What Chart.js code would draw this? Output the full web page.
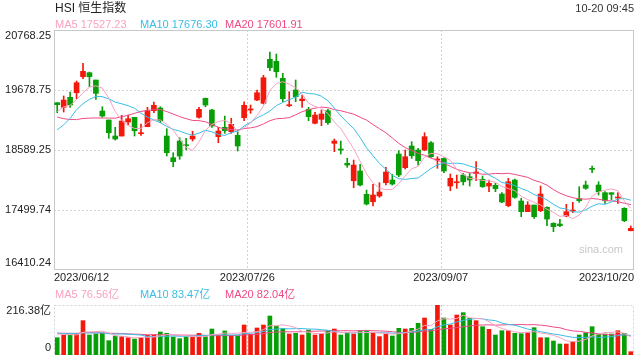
<!DOCTYPE html>
<html>
<head>
<meta charset="utf-8">
<script src="https://cdn.jsdelivr.net/npm/chart.js@4.4.0/dist/chart.umd.min.js"></script>
<style>
body { margin: 0; background: #fff; }
#wrap { position: relative; width: 640px; height: 360px; overflow: hidden; font-family: Arial, "Liberation Sans", "Noto Sans CJK SC", sans-serif; }
canvas { position: absolute; left: 0; }
.t { position: absolute; white-space: nowrap; font-size: 11px; line-height: 12px; }
</style>
</head>
<body>
<div id="wrap">
  <canvas id="kline" width="640" height="290" style="top:0"></canvas>
  <canvas id="vol" width="640" height="70" style="top:290px"></canvas>
  <div class="t" style="left:55px;top:1px;font-size:12px;line-height:14px;color:#222">HSI 恒生指数</div>
  <div class="t" style="right:6px;top:2px;color:#333">10-20 09:45</div>
  <div id="legK"></div>
  <div id="legV"></div>
  <div class="t" style="right:17px;top:243px;color:#c8c8c8">sina.com</div>
</div>
<script>
// ---- data ----
const tickLabels = ['2023/06/12', '2023/07/26', '2023/09/07', '2023/10/20'];
const tickAt = [-0.5, 29.5, 59.5, 89.5];
const priceTicks = [20768.25, 19678.75, 18589.25, 17499.74, 16410.24];
const volTicks = [216.38, 0];
const maNames = ['MA5', 'MA10', 'MA20'];
const maValues = ['17527.23', '17676.30', '17601.91'];
const volMaValues = ['76.56亿', '83.47亿', '82.04亿'];

const open = [19448,19364,19546,19629,19920,19993,19860,19297,19134,18843,
  18843,19097,19183,18885,19012,19303,19352,18843,18449,18752,
  18680,18789,19183,19528,19315,18831,19001,18921,18856,19176,
  19315,19497,19437,20236,20200,19891,19393,19679,19484,19328,
  19074,19146,19303,18710,18607,18347,18031,18208,17784,17650,
  17754,17995,18044,18516,18268,18662,18589,18589,18721,18407,
  18438,17935,17995,18135,18104,18165,18057,17935,17948,17790,
  17577,18044,17663,17469,17590,17487,17549,17258,17245,17390,
  17481,17705,17953,18244,17953,17814,17814,17717,17530,17123];
const high = [19448,19570,19642,19842,20163,20005,19860,19375,19134,19001,
  19219,19224,19183,19061,19364,19461,19375,18976,18540,18812,
  18801,18929,19364,19533,19328,19001,19206,19165,18952,19466,
  19406,19679,19945,20369,20332,19982,19648,19860,19588,19364,
  19273,19315,19328,18789,18752,18438,18407,18329,17862,17966,
  17995,18275,18148,18576,18589,18740,18620,18903,18740,18467,
  18449,18153,18135,18165,18165,18377,18117,18044,17984,17814,
  18075,18062,17712,17650,17590,17935,17559,17269,17330,17603,
  17639,17922,18025,18298,18013,17832,17814,17814,17541,17209];
const low = [19266,19279,19364,19520,19884,19738,19509,19183,18801,18770,
  18843,19043,18843,18856,19012,19266,19085,18480,18286,18420,
  18589,18752,19165,19375,19001,18721,18892,18892,18571,19121,
  19255,19484,19424,20029,19909,19466,19375,19466,19364,19121,
  19061,19030,19055,18558,18516,18275,17904,17935,17590,17572,
  17730,17953,17953,18104,18244,18438,18316,18576,18456,18257,
  18177,17850,17893,17953,17935,18031,17912,17832,17832,17632,
  17559,17712,17378,17469,17349,17469,17214,17105,17196,17378,
  17450,17639,17875,18177,17772,17621,17681,17621,17287,17123];
const close = [19412,19497,19406,19811,20018,19920,19618,19206,18903,18789,
  19115,19157,18939,18903,19303,19401,19121,18540,18377,18480,
  18667,18843,19328,19406,19025,18934,18939,19055,18662,19401,
  19334,19629,19902,20084,20011,19520,19412,19557,19515,19194,
  19224,19243,19085,18752,18589,18316,18316,17953,17608,17772,
  17826,18189,17971,18135,18467,18485,18395,18831,18467,18425,
  18208,18075,18013,18013,18044,18189,17922,17984,17886,17645,
  18013,17730,17469,17590,17378,17790,17336,17196,17215,17469,
  17499,17668,17893,18238,17832,17668,17784,17730,17305,17167];
// turnover, 亿
const volume = [74.9,86.6,86.6,93.8,148.6,86.6,90.9,93.8,62,82.2,
  79.4,74.9,69.2,74.9,85.1,86.6,99.5,93.8,77.9,70.7,
  77.9,77.9,93.8,79.4,112.5,86.6,103.9,85.1,82.2,129.8,
  89.5,116.9,129.8,168.8,125.5,113.8,90.9,93.8,86.6,108.2,
  86.6,90.9,105.2,112.5,86.6,96.5,90.9,105.2,105.2,93.8,
  79.4,90.9,82.2,115.4,112.5,115.4,137,160.1,111,216.38,
  160.1,129.8,173.1,183.2,158.7,148.6,122.6,111,86.6,105.2,
  105.2,93.8,92.3,96.5,118.3,74.9,74.9,60.6,47.6,47.6,
  57.7,86.6,96.5,122.6,89.5,90.9,90.9,105.2,93.8,14.4];
// sessions before the window (estimated), only feed the moving averages
const preCloses = [20100,19700,19850,19600,19800,19550,19250,18900,18850,18600,
  18600,18230,18220,18950,19110,19100,19250,19300,19390];
const preVolumes = [95,88,102,90,84,97,110,92,86,99,105,88,94,120,85,96,90,100,93];

// ---- styles ----
const upColor = '#f2190c', downColor = '#089e08';
const maColors = ['#f8a2c2', '#38bee6', '#ee4a86'];
const maLen = [5, 10, 20];
const font = 'Arial, "Liberation Sans", "Noto Sans CJK SC", sans-serif';

function movingAvg(pre, vals, n) {
  const all = pre.concat(vals);
  return vals.map((_, i) => {
    const end = pre.length + i + 1;
    return all.slice(end - n, end).reduce((a, b) => a + b, 0) / n;
  });
}

function legend(el, top, values) {
  const xs = [55, 140, 225];
  el.innerHTML = maNames.map((n, i) =>
    '<div class="t" style="left:' + xs[i] + 'px;top:' + top + 'px;color:' + maColors[i] + '">' +
    n + ' ' + values[i] + '</div>').join('');
}
legend(document.getElementById('legK'), 18, maValues);
legend(document.getElementById('legV'), 288, volMaValues);

const idx = close.map((_, i) => i);
const colors = idx.map(i => close[i] >= open[i] ? upColor : downColor);

const frame = {
  id: 'frame',
  beforeDatasetsDraw(chart, args, o) {
    const { ctx, chartArea: a, scales: { x, y } } = chart;
    ctx.save();
    ctx.lineWidth = 1;
    ctx.strokeStyle = '#d2d2d2';
    ctx.setLineDash([2, 2]);
    ctx.beginPath();
    o.hLines.forEach(v => {
      const py = Math.round(y.getPixelForValue(v)) + 0.5;
      ctx.moveTo(a.left, py); ctx.lineTo(a.right, py);
    });
    o.vLines.forEach(v => {
      const px = Math.round(x.getPixelForValue(v)) + 0.5;
      ctx.moveTo(px, a.top); ctx.lineTo(px, a.bottom);
    });
    ctx.stroke();
    if (o.solid) {
      ctx.setLineDash([]);
      ctx.strokeStyle = '#c8c8c8';
    }
    ctx.strokeRect(a.left + 0.5, a.top + 0.5, a.right - a.left - 1, a.bottom - a.top - 1);
    ctx.restore();
  },
  afterDraw(chart, args, o) {
    const { ctx, chartArea: a, scales: { x, y } } = chart;
    ctx.save();
    ctx.font = '11px ' + font;
    ctx.fillStyle = '#222';
    ctx.textAlign = 'right';
    o.yTicks.forEach((v, i) => {
      const py = y.getPixelForValue(v);
      const last = o.yTicks.length - 1;
      ctx.textBaseline = i === 0 ? 'top' : i === last ? 'bottom' : 'middle';
      ctx.fillText(o.yText[i], a.left - 3, i === last ? py - 2 : py);
    });
    if (o.xText) {
      ctx.textBaseline = 'middle';
      tickAt.forEach((v, i) => {
        ctx.textAlign = i === 0 ? 'left' : i === tickAt.length - 1 ? 'right' : 'center';
        ctx.fillText(tickLabels[i], x.getPixelForValue(v), a.bottom + 8);
      });
    }
    ctx.restore();
  }
};

function lineSet(vals, i) {
  return {
    type: 'line', data: idx.map(k => ({ x: k, y: vals[k] })),
    borderColor: maColors[i], borderWidth: 1, pointRadius: 0, tension: 0, order: 0
  };
}

const baseOpts = (pad, yMin, yMax, plug) => ({
  responsive: false, animation: false, events: [],
  layout: { padding: pad },
  plugins: { legend: { display: false }, tooltip: { enabled: false }, frame: plug },
  scales: {
    x: { type: 'linear', min: -0.5, max: 89.5, offset: false, display: false },
    y: { min: yMin, max: yMax, display: false }
  }
});

new Chart(document.getElementById('kline'), {
  type: 'bar',
  data: {
    datasets: [
      ...maLen.map((n, i) => lineSet(movingAvg(preCloses, close, n), i)),
      { data: idx.map(i => ({ x: i, y: [low[i], high[i]] })), backgroundColor: colors,
        grouped: false, barThickness: 1, maxBarThickness: 1, order: 2 },
      { data: idx.map(i => ({ x: i, y: [open[i], close[i]] })), backgroundColor: colors,
        grouped: false, barThickness: 5, maxBarThickness: 5, minBarLength: 1, order: 1 }
    ]
  },
  options: baseOpts({ left: 54, top: 30, right: 6, bottom: 20 }, priceTicks[4], priceTicks[0], {
    hLines: priceTicks.slice(1, 4), vLines: tickAt.slice(1, 3), solid: true,
    yTicks: priceTicks, yText: priceTicks.map(v => v.toFixed(2)), xText: true
  }),
  plugins: [frame]
});

new Chart(document.getElementById('vol'), {
  type: 'bar',
  data: {
    datasets: [
      ...maLen.map((n, i) => lineSet(movingAvg(preVolumes, volume, n), i)),
      { data: idx.map(i => ({ x: i, y: volume[i] })), backgroundColor: colors,
        grouped: false, barThickness: 4, maxBarThickness: 4, order: 1 }
    ]
  },
  options: baseOpts({ left: 54, top: 15, right: 6, bottom: 5 }, volTicks[1], volTicks[0], {
    hLines: [], vLines: tickAt.slice(1, 3), solid: false,
    yTicks: volTicks, yText: ['216.38亿', '0'], xText: false
  }),
  plugins: [frame]
});
</script>
</body>
</html>
